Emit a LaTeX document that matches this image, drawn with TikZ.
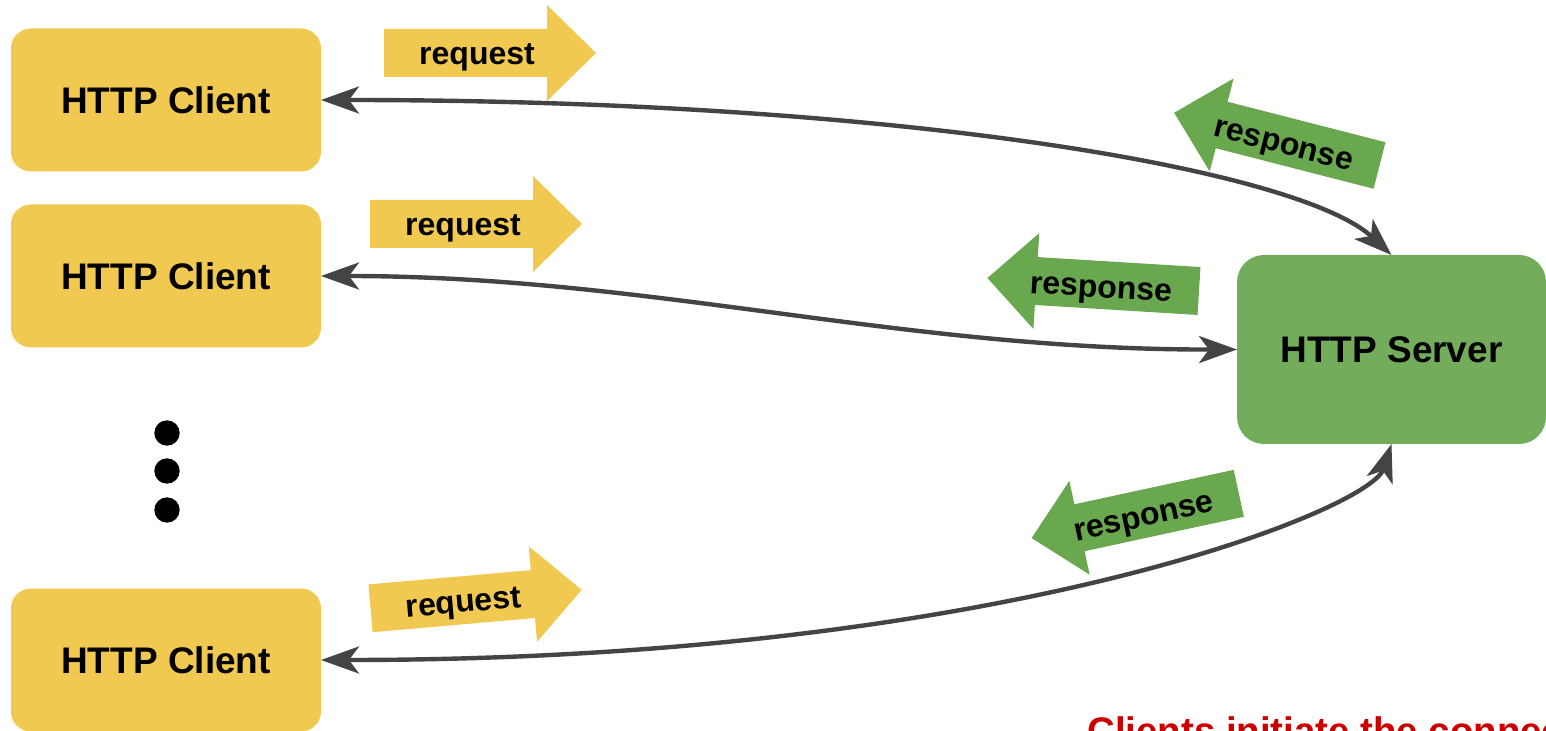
\documentclass[tikz,border=0pt]{standalone}
\usepackage{fontspec}
\setmainfont{Liberation Sans}
\usetikzlibrary{arrows.meta}

\definecolor{clientyellow}{HTML}{F1C951}
\definecolor{servergreen}{HTML}{73AD5B}
\definecolor{respgreen}{HTML}{6AA84F}
\definecolor{linkgray}{HTML}{444444}
\definecolor{notered}{HTML}{CC0000}

\tikzset{
	client/.style={fill=clientyellow, rounded corners=10pt, minimum width=155pt, minimum height=71.5pt, outer sep=0pt, font=\fontsize{18.5}{22}\selectfont\bfseries},
	server/.style={fill=servergreen, rounded corners=13.5pt, minimum width=154.5pt, minimum height=94.5pt, outer sep=0pt, font=\fontsize{18.5}{22}\selectfont\bfseries},
	lbl/.style={inner sep=0pt, anchor=base, transform shape, font=\fontsize{16}{19}\selectfont\bfseries},
	link/.style={draw=linkgray, line width=2.2pt, >={Stealth[length=19pt,width=13.5pt,inset=5pt]}, <->},
	pics/request/.style={code={
		\fill[clientyellow] (0,-24) -- (163,-24) -- (163,-48) -- (212,0) -- (163,48) -- (163,24) -- (0,24) -- cycle;
		\node[lbl] (-text) at (93,12) {#1};
	}},
	pics/response/.style={code={
		\fill[respgreen] (0,-24) -- (-163,-24) -- (-163,-48) -- (-212,0) -- (-163,48) -- (-163,24) -- (0,24) -- cycle;
		\node[lbl] (-text) at (-98,12.5) {#1};
	}},
}

\begin{document}
\begin{tikzpicture}[x=0.5pt, y=-0.5pt]
	\useasboundingbox (0,0) rectangle (1546,731);

	\node[client] (cl1) at (166,100) {HTTP Client};
	\node[client] (cl2) at (166,276) {HTTP Client};
	\node[client] (cl3) at (166,660) {HTTP Client};
	\node[server] (srv) at (1391.5,349.5) {HTTP Server};

	\fill (167,433) circle (6.35pt);
	\fill (167,471) circle (6.35pt);
	\fill (167,510) circle (6.35pt);

	\pic (req1) at (384,53) {request=request};
	\pic (req2) at (370,224) {request=request};
	\pic[rotate=5] (req3) at (370.5,608.3) {request=request};

	\pic[rotate=-14.4] (resp1) at (1379.5,165.5) {response=response};
	\pic[rotate=-3.5] (resp2) at (1199,291) {response=response};
	\pic[rotate=12.2] (resp3) at (1238.8,493.3) {response=response};

	\draw[link] (cl1.east) .. controls (900,100) and (1300,170) .. (srv.north);
	\draw[link] (cl2.east) .. controls (650,276) and (900,350) .. (srv.west);
	\draw[link] (cl3.east) .. controls (1000,660) and (1370,510) .. (srv.south);

	\node[anchor=base west, inner sep=0pt, text=notered, font=\fontsize{19.2}{23}\selectfont\bfseries] (note) at (1087,744.5) {Clients initiate the connection};
\end{tikzpicture}
\end{document}
